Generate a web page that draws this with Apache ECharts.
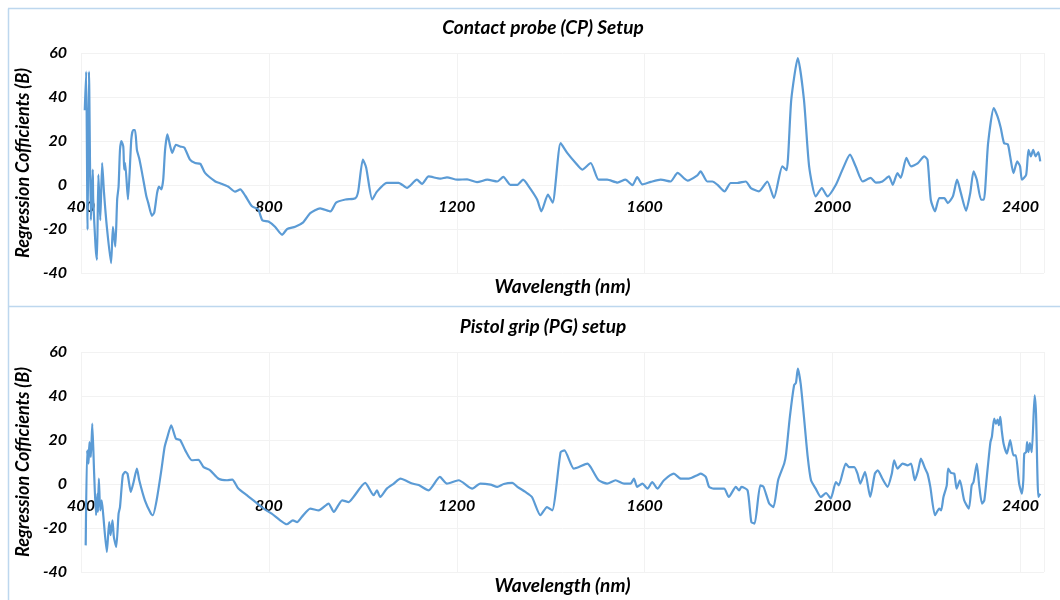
<!DOCTYPE html>
<html>
<head>
<meta charset="utf-8">
<script src="https://cdn.jsdelivr.net/npm/echarts@6/dist/echarts.min.js"></script>
<style>
  html, body { margin: 0; padding: 0; background: #fff; }
  #main { width: 1060px; height: 600px; }
</style>
</head>
<body>
<div id="main"></div>
<script>
// Contact probe (CP) setup
var cpWavelength = [408,411,414,417,421,425,426,431,434,437,441,445,449,455,464,468,473,477,480,483,486,490,492,494,500,507,511,515,519,524,530,539,543,551,556,562,566,571,575,579,584,590,594,602,611,620,632,643,654,664,686,696,713,728,739,750,764,777,786,799,813,828,839,856,873,888,909,931,943,963,984,990,1000,1007,1020,1030,1051,1076,1094,1115,1126,1140,1165,1179,1201,1222,1243,1265,1286,1299,1314,1329,1341,1353,1371,1380,1394,1404,1421,1435,1453,1467,1485,1502,1520,1542,1559,1574,1584,1595,1613,1634,1655,1670,1691,1712,1719,1733,1744,1755,1770,1783,1797,1815,1826,1843,1861,1875,1893,1902,1912,1926,1939,1950,1964,1977,1989,2007,2021,2037,2049,2064,2081,2092,2106,2120,2128,2138,2145,2157,2167,2181,2195,2202,2209,2218,2227,2238,2245,2256,2265,2273,2284,2293,2300,2307,2316,2322,2331,2343,2351,2358,2365,2373,2378,2385,2393,2399,2403,2412,2417,2422,2427,2432,2438,2442];
var cpValues = [34,51.6,-20.3,51.6,-16,7,-6.5,-28,-34,4.7,-16,10,-3.5,-19,-35.5,-19,-28,-6.6,-0.7,16,20,17.5,7,10,-6.6,20.6,25,25,16,12,5.5,-5,-8,-14,-12.5,-3.6,-0.7,-2,2.4,16,23,17.5,14.6,18.3,17.5,17,11.5,10,9.6,5.5,1.6,0.8,-0.7,-3,-2,-5,-9.7,-11,-16,-16.6,-19,-22.6,-20,-19,-17,-12.8,-10.6,-12,-8,-6.6,-6,-3,11.5,8,-6.6,-3,1,1,-1.3,2.4,0.5,3.9,2.9,3.5,2.4,2.6,1.3,2.4,1.6,3.7,0.1,0.1,2.4,-0.6,-6.6,-12,-4.4,-8,19,14.6,10,7,10,2.4,2.4,1.1,2.4,-0.1,3.6,0.3,1.4,2.4,1.6,5.5,2,4.4,6.2,1.6,1.6,0.1,-2.9,0.9,0.9,1.6,-1.4,-2.9,1.6,-5.9,8.5,6.7,38.8,57.7,38.8,8.5,-5.2,-1.4,-5.2,0.1,7,13.8,8.5,1.6,3.2,1.1,1.6,3.9,0.1,5.4,3.2,12.3,8.5,9.8,13,11.5,-6.7,-12,-6,-6,-8.2,-5.2,2.4,-3.6,-11.7,-3.6,6.2,2.4,-6.7,-6.7,19,35,31.2,25.9,19,18.5,13,5.4,10.7,8.5,2.4,4.6,16,13,16,13,15,10.7];

// Pistol grip (PG) setup
var pgWavelength = [410,413,416,418,421,424,428,432,435,436,438,441,444,447,455,460,463,467,470,475,480,483,489,494,499,506,512,519,524,536,549,553,561,571,578,584,592,602,611,622,636,650,661,675,693,711,722,735,753,767,789,806,824,838,851,860,870,888,906,927,938,956,970,980,1005,1023,1030,1037,1051,1066,1080,1090,1105,1119,1140,1164,1179,1204,1233,1250,1272,1286,1300,1318,1329,1346,1360,1378,1392,1403,1421,1429,1449,1460,1478,1485,1502,1520,1538,1556,1570,1577,1584,1595,1606,1616,1627,1641,1662,1677,1694,1712,1719,1730,1737,1747,1769,1779,1794,1801,1806,1819,1827,1834,1846,1853,1865,1874,1884,1897,1901,1909,1918,1922,1926,1932,1939,1947,1954,1964,1975,1986,1996,2007,2013,2028,2035,2046,2053,2059,2069,2080,2090,2096,2106,2117,2126,2131,2138,2149,2160,2167,2175,2182,2188,2197,2202,2208,2218,2227,2231,2236,2243,2246,2252,2259,2264,2271,2280,2290,2296,2300,2307,2312,2318,2323,2330,2336,2339,2344,2348,2351,2354,2357,2360,2364,2371,2378,2385,2390,2397,2403,2406,2408,2412,2414,2417,2420,2424,2430,2433,2438,2442];
var pgValues = [-27.9,15.3,9.3,19,12.3,27.4,4.7,-14.2,-4.4,-12.7,2.4,-12,-7.4,-13.2,-30.9,-17.3,-23.3,-16.5,-24.1,-28.6,-13.5,-10.5,4,5.5,4.7,-3.6,0.9,7,1.7,-7.4,-13.5,-14.2,-7.4,6.2,16.8,21.4,26.7,20.6,20,15.3,10.8,11,7.7,6.2,2.4,1.7,2,-2.1,-5.1,-7.4,-11.2,-13.5,-16.5,-18.3,-16.5,-17.3,-15,-11.2,-12,-8.9,-12.7,-7.4,-8.2,-5.9,0.5,-5.1,-2.9,-5.9,-2.1,0.2,2.4,1.7,0.2,-0.5,-2.9,3.2,0.2,1.7,-2.1,0.2,-0.3,-1.3,0,0.5,-1.3,-3.6,-5.9,-14.2,-10.5,-12,14.5,15.3,7,7.7,9.3,7.7,1.7,0.2,1.7,0.2,0.2,2.4,-1.3,0.2,-2.1,0.9,-2.1,1.7,4.7,2.4,2.4,4,4.7,3.2,-1.3,-2.1,-2.1,-5.9,-1.3,-2.9,-1.3,-2.9,-17.3,-18,-0.6,-1.3,-8.9,-10.5,1.7,9.3,13.8,30.5,44.9,46,52.5,45.6,30.5,12.3,1.7,-2.1,-5.9,-4.1,-6.6,0.9,-0.6,9.3,7.7,7.7,4.7,0.2,5.5,-5.9,4.7,6.2,2.4,-1.3,4.7,10.8,7,9.3,8.5,9.3,1.7,6.2,11.5,7,4.7,-1.3,-14.2,-11.2,-12,-5.9,-0.6,7,5,4.7,-2.1,1.7,-7.4,-11.2,-0.6,0.9,9.3,-0.6,-8.9,-7.4,7,19.1,21.4,29.7,27.4,29.3,26.7,30.5,24.4,18.3,13.8,19.9,13,13,0.2,-4.4,1.7,13.8,14.5,19.1,14.5,18.6,14.5,40.3,32,-5.9,-4.4];

var titles = ['Contact probe (CP) Setup', 'Pistol grip (PG) setup'];

function zip(xs, ys) {
    var d = [];
    for (var i = 0; i < xs.length; i++) d.push([xs[i], ys[i]]);
    return d;
}

var myChart = echarts.init(document.getElementById('main'));

var font = 'Lato, "Open Sans", sans-serif';
var txt = { fontFamily: font, fontWeight: 'bold', fontStyle: 'italic', color: '#000' };
function plain(v) { return String(v); }

var plotHeight = 220;
// 横轴画在 y=0 处: -40..60 中 0 离底部 40%
var zeroOffset = -plotHeight * 40 / 100;

function xAxisFor(idx) {
    return {
        type: 'value', gridIndex: idx,
        min: 400, max: 2450, interval: 400,
        offset: zeroOffset,
        name: 'Wavelength (nm)', nameLocation: 'middle', nameGap: 92,
        nameTextStyle: Object.assign({ fontSize: 19 }, txt),
        axisLine: { show: false, onZero: false },
        axisTick: { show: false },
        axisLabel: Object.assign({ fontSize: 16, margin: 14, showMaxLabel: false, formatter: plain }, txt),
        splitLine: { show: true, lineStyle: { color: '#f2f2f2', width: 1 } }
    };
}

function yAxisFor(idx) {
    return {
        type: 'value', gridIndex: idx,
        min: -40, max: 60, interval: 20,
        name: 'Regression Cofficients (B)', nameLocation: 'middle', nameGap: 41,
        nameTextStyle: Object.assign({ fontSize: 18 }, txt),
        axisLine: { show: false },
        axisTick: { show: false },
        axisLabel: Object.assign({ fontSize: 16, margin: 14, formatter: plain }, txt),
        splitLine: { show: true, lineStyle: { color: '#f2f2f2', width: 1 } }
    };
}

var lineStyle = { color: '#5B9BD5', width: 2.2 };

var option = {
    backgroundColor: '#fff',
    animation: false,
    title: [
        { text: titles[0], left: 538, top: 13, textAlign: 'center', textStyle: Object.assign({ fontSize: 19 }, txt) },
        { text: titles[1], left: 538, top: 312, textAlign: 'center', textStyle: Object.assign({ fontSize: 19 }, txt) }
    ],
    grid: [
        { left: 81, right: 16, top: 53, height: plotHeight, outerBoundsMode: 'none' },
        { left: 81, right: 16, top: 352, height: plotHeight, outerBoundsMode: 'none' }
    ],
    xAxis: [xAxisFor(0), xAxisFor(1)],
    yAxis: [yAxisFor(0), yAxisFor(1)],
    series: [
        { type: 'line', xAxisIndex: 0, yAxisIndex: 0, data: zip(cpWavelength, cpValues),
          showSymbol: false, smooth: 0.2, lineStyle: lineStyle },
        { type: 'line', xAxisIndex: 1, yAxisIndex: 1, data: zip(pgWavelength, pgValues),
          showSymbol: false, smooth: 0.2, lineStyle: lineStyle }
    ],
    // 面板边框
    graphic: [
        { type: 'line', shape: { x1: 8.5, y1: 8.5, x2: 8.5, y2: 600 }, style: { stroke: '#BDD7EE', lineWidth: 1.5 } },
        { type: 'line', shape: { x1: 8, y1: 8.5, x2: 1060, y2: 8.5 }, style: { stroke: '#BDD7EE', lineWidth: 1.5 } },
        { type: 'line', shape: { x1: 8, y1: 306.5, x2: 1060, y2: 306.5 }, style: { stroke: '#BDD7EE', lineWidth: 1.5 } }
    ]
};

myChart.setOption(option);
</script>
</body>
</html>
